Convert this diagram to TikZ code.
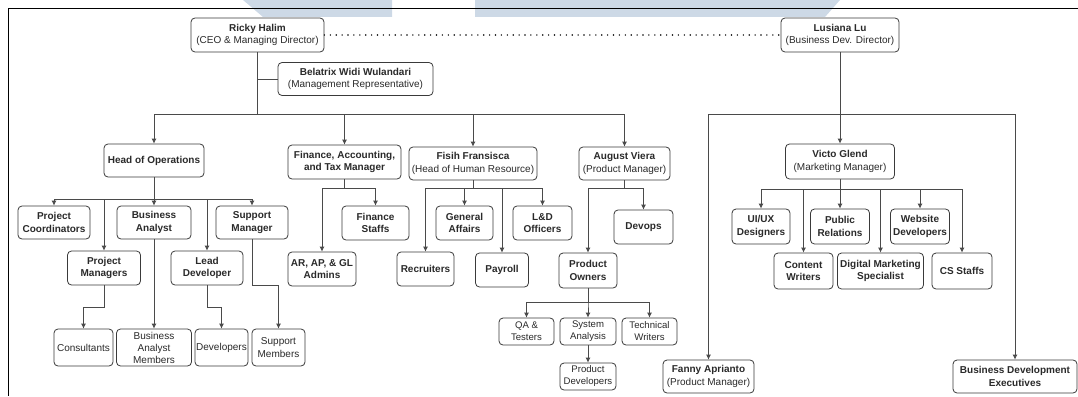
\documentclass[tikz,border=0pt]{standalone}
\usepackage{fontspec}
\setmainfont{Liberation Sans}
\usetikzlibrary{arrows.meta}
\definecolor{wmblue}{HTML}{CDD9E6}
\definecolor{boxline}{HTML}{3A3A3A}
\definecolor{linkline}{HTML}{4A4A4A}
\definecolor{textgray}{HTML}{2A2A2A}

\begin{document}
\begin{tikzpicture}[x=1pt,y=-1pt]
\useasboundingbox (0,0) rectangle (1078,396);
\fill[wmblue] (243,0) -- (392,0) -- (392,17) -- (263,17) -- cycle;
\fill[wmblue] (475,0) -- (840,0) -- (825,17) -- (475,17) -- cycle;
\draw[line width=1pt] (1078,9) -- (8,9) -- (8,396);

\tikzstyle{box}=[draw=boxline,line width=0.8pt,rounded corners=4pt,fill=white,align=center,inner sep=1pt,text=textgray,font=\fontsize{10}{12.5}\selectfont]
\tikzstyle{smallbox}=[box,font=\fontsize{9.6}{12}\selectfont]
\tikzstyle{link}=[draw=linkline,line width=0.8pt]
\tikzstyle{linkarrow}=[link,-{Latex[length=5pt,width=5pt]}]

% top management
\node[box,minimum width=133pt,minimum height=34pt] (ricky) at (257.5,35) {\textbf{Ricky Halim}\\(CEO \& Managing Director)};
\node[box,minimum width=118pt,minimum height=34pt] (lusiana) at (840,35) {\textbf{Lusiana Lu}\\(Business Dev. Director)};
\node[box,minimum width=155pt,minimum height=33pt] (bel) at (355.5,79) {\textbf{Belatrix Widi Wulandari}\\(Management Representative)};

% managers
\node[box,minimum width=100pt,minimum height=33pt] (hops) at (154,160.5) {\textbf{Head of Operations}};
\node[box,minimum width=113pt,minimum height=34pt] (fin) at (344.5,162) {\textbf{Finance, Accounting,}\\\textbf{and Tax Manager}};
\node[box,minimum width=128pt,minimum height=33pt] (fisih) at (473,163.5) {\textbf{Fisih Fransisca}\\(Head of Human Resource)};
\node[box,minimum width=91pt,minimum height=33pt] (august) at (624.5,163.5) {\textbf{August Viera}\\(Product Manager)};
\node[box,minimum width=109pt,minimum height=35pt] (victo) at (840,161.5) {\textbf{Victo Glend}\\(Marketing Manager)};

% operations
\node[box,minimum width=72pt,minimum height=33pt] (pcoord) at (54,222.5) {\textbf{Project}\\\textbf{Coordinators}};
\node[box,minimum width=74pt,minimum height=33pt] (ba) at (154,222.5) {\textbf{Business}\\\textbf{Analyst}};
\node[box,minimum width=72pt,minimum height=33pt] (supm) at (252,222.5) {\textbf{Support}\\\textbf{Manager}};
\node[box,minimum width=73pt,minimum height=34pt] (pm) at (104,268) {\textbf{Project}\\\textbf{Managers}};
\node[box,minimum width=72pt,minimum height=34pt] (lead) at (207,268) {\textbf{Lead}\\\textbf{Developer}};
\node[box,minimum width=59pt,minimum height=37pt] (cons) at (83.5,347.5) {Consultants};
\node[box,minimum width=75pt,minimum height=37pt,font=\fontsize{10}{12}\selectfont] (bam) at (154,347.5) {Business\\Analyst\\Members};
\node[box,minimum width=53pt,minimum height=37pt] (devs) at (221.5,347.5) {Developers};
\node[box,minimum width=53pt,minimum height=37pt] (supmem) at (278.5,347.5) {Support\\Members};

% finance
\node[box,minimum width=68pt,minimum height=34pt] (aradmin) at (322,269) {\textbf{AR, AP, \& GL}\\\textbf{Admins}};
\node[box,minimum width=67pt,minimum height=34pt] (finstaff) at (375.5,223) {\textbf{Finance}\\\textbf{Staffs}};

% human resource
\node[box,minimum width=57pt,minimum height=34pt] (genaff) at (464.5,223) {\textbf{General}\\\textbf{Affairs}};
\node[box,minimum width=59pt,minimum height=34pt] (ldo) at (542.5,223) {\textbf{L\&D}\\\textbf{Officers}};
\node[box,minimum width=57pt,minimum height=34pt] (recruit) at (425.5,269) {\textbf{Recruiters}};
\node[box,minimum width=53pt,minimum height=34pt] (payroll) at (502,270) {\textbf{Payroll}};

% product
\node[box,minimum width=59pt,minimum height=34pt] (devops) at (643.5,227) {\textbf{Devops}};
\node[box,minimum width=58pt,minimum height=35pt] (po) at (588,270.5) {\textbf{Product}\\\textbf{Owners}};
\node[smallbox,minimum width=55pt,minimum height=27pt] (qa) at (526.5,331.5) {QA \&\\Testers};
\node[smallbox,minimum width=56pt,minimum height=27pt] (sysan) at (588,331.5) {System\\Analysis};
\node[smallbox,minimum width=55pt,minimum height=27pt] (techw) at (649.5,331.5) {Technical\\Writers};
\node[smallbox,minimum width=56pt,minimum height=27pt] (proddev) at (588,376.5) {Product\\Developers};

% marketing and business development
\node[box,minimum width=58pt,minimum height=35pt] (uiux) at (761,226.5) {\textbf{UI/UX}\\\textbf{Designers}};
\node[box,minimum width=59pt,minimum height=35pt] (pr) at (840,226.5) {\textbf{Public}\\\textbf{Relations}};
\node[box,minimum width=59pt,minimum height=35pt] (webdev) at (920,226.5) {\textbf{Website}\\\textbf{Developers}};
\node[box,minimum width=59pt,minimum height=36pt] (content) at (803.5,271) {\textbf{Content}\\\textbf{Writers}};
\node[box,minimum width=86pt,minimum height=36pt] (dms) at (880.5,271) {\textbf{Digital Marketing}\\\textbf{Specialist}};
\node[box,minimum width=60pt,minimum height=36pt] (cs) at (962,271) {\textbf{CS Staffs}};
\node[box,minimum width=91pt,minimum height=33pt] (fanny) at (708.5,376.5) {\textbf{Fanny Aprianto}\\(Product Manager)};
\node[box,minimum width=124pt,minimum height=33pt] (bde) at (1015,376.5) {\textbf{Business Development}\\\textbf{Executives}};

% connectors
\draw[black,line width=1.6pt,line cap=round,dash pattern=on 0pt off 5.9pt] (ricky.east) -- (lusiana.west);
\draw[link] (ricky.south) |- (bel.west);
\foreach \n in {hops,fin,fisih,august}
  \draw[linkarrow] (ricky.south) -- ++(0,62) -| (\n.north);
\foreach \n in {fanny,bde}
  \draw[linkarrow] (lusiana.south) -- ++(0,62) -| (\n.north);
\draw[linkarrow] (lusiana.south) -- (victo.north);

\foreach \n in {pcoord,pm,ba,lead,supm}
  \draw[linkarrow] (hops.south) -- ++(0,22) -| (\n.north);
\draw[linkarrow] (ba.south) -- (bam.north);
\draw[linkarrow] (pm.south) -- ++(0,22) -| (cons.north);
\draw[linkarrow] (lead.south) -- ++(0,22) -| (devs.north);
\draw[linkarrow] (supm.south) -- ++(0,46) -| (supmem.north);

\foreach \n in {aradmin,finstaff}
  \draw[linkarrow] (fin.south) -- ++(0,9) -| (\n.north);
\foreach \n in {recruit,genaff,payroll,ldo}
  \draw[linkarrow] (fisih.south) -- ++(0,8) -| (\n.north);
\foreach \n in {po,devops}
  \draw[linkarrow] (august.south) -- ++(0,8) -| (\n.north);
\foreach \n in {qa,sysan,techw}
  \draw[linkarrow] (po.south) -- ++(0,14) -| (\n.north);
\draw[linkarrow] (sysan.south) -- (proddev.north);

\foreach \n in {uiux,content,pr,dms,webdev,cs}
  \draw[linkarrow] (victo.south) -- ++(0,10) -| (\n.north);
\end{tikzpicture}
\end{document}
